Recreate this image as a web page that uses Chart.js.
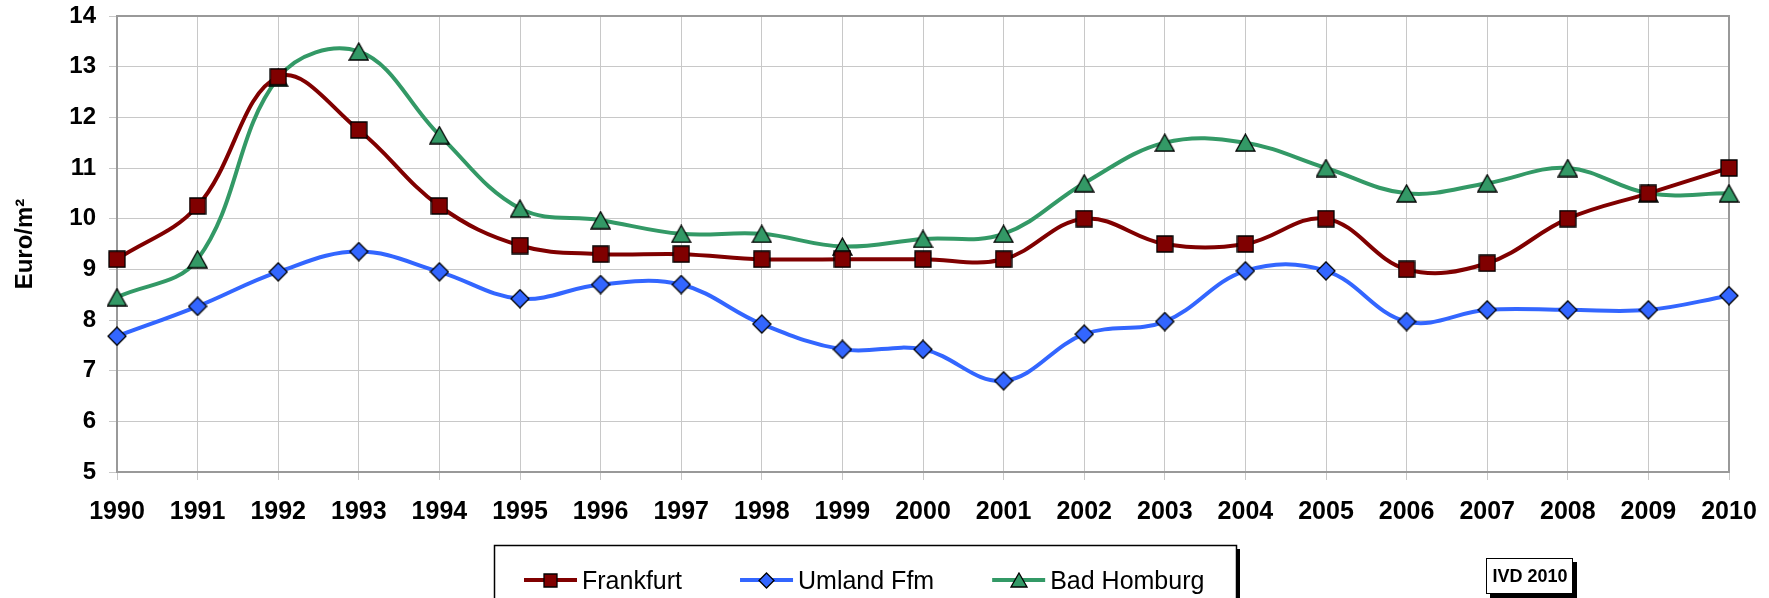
<!DOCTYPE html>
<html>
<head>
<meta charset="utf-8">
<script src="https://cdn.jsdelivr.net/npm/chart.js@4.4.1/dist/chart.umd.min.js"></script>
<style>
  html, body { margin: 0; padding: 0; background: #fff; }
  #wrap { width: 1769px; height: 598px; position: relative; }
</style>
</head>
<body>
<div id="wrap"><canvas id="rentChart" width="1769" height="598"></canvas></div>
<script>
// data (Euro/m²)
const years = ['1990', '1991', '1992', '1993', '1994', '1995', '1996', '1997', '1998', '1999', '2000',
               '2001', '2002', '2003', '2004', '2005', '2006', '2007', '2008', '2009', '2010'];
const frankfurt = [9.2, 10.25, 12.8, 11.75, 10.25, 9.47, 9.3, 9.3, 9.2, 9.2, 9.2,
                   9.2, 10.0, 9.5, 9.5, 10.0, 9.0, 9.12, 10.0, 10.5, 11.0];
const umland = [7.68, 8.27, 8.95, 9.35, 8.95, 8.42, 8.7, 8.7, 7.92, 7.42, 7.42,
                6.8, 7.72, 7.97, 8.97, 8.97, 7.97, 8.2, 8.2, 8.2, 8.48];
const badHomburg = [8.45, 9.2, 12.78, 13.3, 11.65, 10.2, 9.97, 9.7, 9.7, 9.45, 9.6,
                    9.7, 10.7, 11.5, 11.5, 11.0, 10.5, 10.7, 11.0, 10.5, 10.5];
const seriesNames = ['Frankfurt', 'Umland Ffm', 'Bad Homburg'];
const yMin = 5, yMax = 14, yStep = 1;
const yTitle = 'Euro/m²';
const stampText = 'IVD 2010';

const FONT = '"Liberation Sans", Arial, sans-serif';

// excel style markers with black outline
function marker(shape, fill, scale) {
    const s = scale || 1;
    const c = document.createElement('canvas');
    let w = 18, h = 18;
    if (shape === 'diamond') { w = 20; h = 20; }
    if (shape === 'tri') { w = 21; h = 19; }
    w = Math.round(w * s); h = Math.round(h * s);
    c.width = w; c.height = h;
    const g = c.getContext('2d');
    g.fillStyle = fill;
    g.strokeStyle = '#000';
    g.lineWidth = 1.3;
    g.beginPath();
    if (shape === 'square') {
        g.rect(1, 1, w - 2, h - 2);
    } else if (shape === 'diamond') {
        g.moveTo(w / 2, 1); g.lineTo(w - 1, h / 2); g.lineTo(w / 2, h - 1); g.lineTo(1, h / 2); g.closePath();
    } else {
        g.moveTo(w / 2, 1); g.lineTo(w - 1, h - 1); g.lineTo(1, h - 1); g.closePath();
    }
    g.fill();
    g.stroke();
    return c;
}

const colors = ['#800000', '#3366ff', '#339966'];
const shapes = ['square', 'diamond', 'tri'];
const seriesData = [frankfurt, umland, badHomburg];

// frame on top/right of plot area
const frame = {
    id: 'frame',
    beforeDatasetsDraw(chart) {
        const a = chart.chartArea, ctx = chart.ctx;
        ctx.save();
        ctx.strokeStyle = '#999';
        ctx.lineWidth = 2;
        ctx.beginPath();
        ctx.moveTo(a.left, a.top);
        ctx.lineTo(a.right, a.top);
        ctx.lineTo(a.right, a.bottom);
        ctx.stroke();
        ctx.restore();
    }
};

// legend box + IVD stamp
const boxes = {
    id: 'boxes',
    afterDraw(chart) {
        const ctx = chart.ctx;
        ctx.save();
        // legend
        ctx.fillStyle = '#000';
        ctx.fillRect(1237, 549, 3, 60);
        ctx.strokeStyle = '#000';
        ctx.lineWidth = 1.5;
        ctx.strokeRect(494.5, 545.5, 742, 70);
        ctx.font = '25px ' + FONT;
        ctx.textBaseline = 'middle';
        let x = 524;
        const ly = 580;
        seriesNames.forEach(function(name, i) {
            ctx.strokeStyle = colors[i];
            ctx.lineWidth = 4;
            ctx.beginPath();
            ctx.moveTo(x, ly);
            ctx.lineTo(x + 53, ly);
            ctx.stroke();
            const m = marker(shapes[i], colors[i], 0.85);
            ctx.drawImage(m, Math.round(x + 26.5 - m.width / 2), Math.round(ly - m.height / 2));
            ctx.fillStyle = '#000';
            ctx.fillText(name, x + 58, ly + 2);
            x += 58 + ctx.measureText(name).width + 58;
        });
        // IVD stamp
        ctx.fillStyle = '#000';
        ctx.fillRect(1573, 562, 4, 36);
        ctx.fillRect(1490, 594, 87, 4);
        ctx.fillStyle = '#fff';
        ctx.fillRect(1487, 559, 86, 35);
        ctx.strokeStyle = '#000';
        ctx.lineWidth = 1;
        ctx.strokeRect(1486.5, 558.5, 86, 35);
        ctx.fillStyle = '#000';
        ctx.font = 'bold 18px ' + FONT;
        ctx.textAlign = 'center';
        ctx.fillText(stampText, 1530, 577);
        ctx.restore();
    }
};

new Chart(document.getElementById('rentChart'), {
    type: 'line',
    data: {
        labels: years,
        datasets: seriesData.map(function(d, i) {
            return {
                label: seriesNames[i],
                data: d,
                borderColor: colors[i],
                backgroundColor: colors[i],
                borderWidth: 4,
                tension: 0.38,
                fill: false,
                clip: false,
                pointStyle: marker(shapes[i], colors[i]),
                pointRadius: 9,
                pointHoverRadius: 9
            };
        })
    },
    options: {
        responsive: false,
        devicePixelRatio: 1,
        animation: false,
        layout: { padding: { left: 0, top: 16, right: 40, bottom: 66 } },
        plugins: {
            legend: { display: false },
            tooltip: { enabled: false }
        },
        scales: {
            x: {
                grid: { color: '#c8c8c8', lineWidth: 1, tickLength: 8, tickColor: '#c8c8c8' },
                border: { color: '#999', width: 2 },
                ticks: {
                    color: '#000',
                    padding: 17,
                    maxRotation: 0,
                    autoSkip: false,
                    font: { family: FONT, size: 25, weight: 'bold' }
                },
                afterFit: function(s) { s.height = 60; s.paddingLeft = 0; s.paddingRight = 0; }
            },
            y: {
                min: yMin,
                max: yMax,
                grid: { color: '#c8c8c8', lineWidth: 1, tickLength: 8, tickColor: '#c8c8c8' },
                border: { color: '#999', width: 2 },
                ticks: {
                    stepSize: yStep,
                    color: '#000',
                    padding: 13,
                    font: { family: FONT, size: 24, weight: 'bold' }
                },
                title: {
                    display: true,
                    text: yTitle,
                    color: '#000',
                    padding: { top: 11, bottom: 0 },
                    font: { family: FONT, size: 24, weight: 'bold' }
                },
                afterFit: function(s) { s.width = 117; s.paddingTop = 0; s.paddingBottom = 0; }
            }
        }
    },
    plugins: [frame, boxes]
});
</script>
</body>
</html>
